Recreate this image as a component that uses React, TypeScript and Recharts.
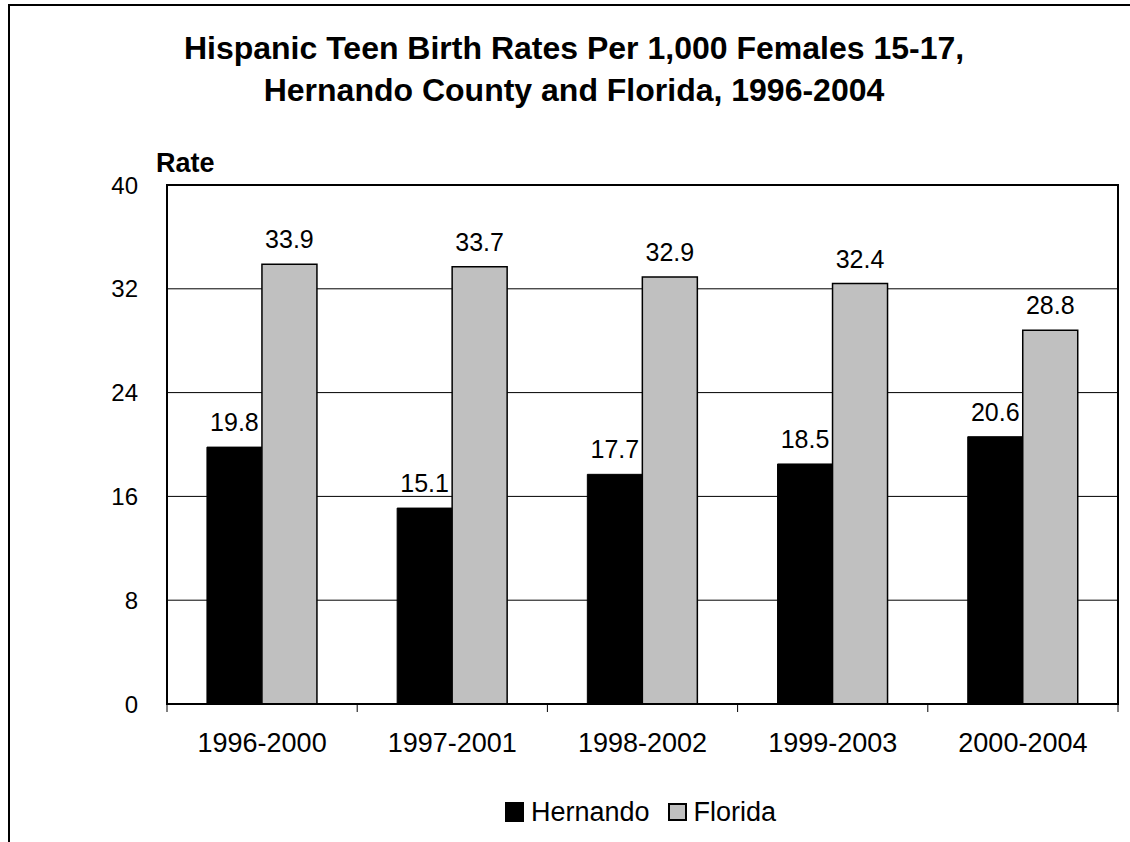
import React from 'react';
import { BarChart, Bar, XAxis, YAxis, CartesianGrid, LabelList } from 'recharts';

const periods = ['1996-2000', '1997-2001', '1998-2002', '1999-2003', '2000-2004'];
const hernando = [19.8, 15.1, 17.7, 18.5, 20.6];
const florida = [33.9, 33.7, 32.9, 32.4, 28.8];
const yTicks = [0, 8, 16, 24, 32, 40];

const chartData = periods.map((p, i) => ({ period: p, Hernando: hernando[i], Florida: florida[i] }));

const font = 'Arial, "Liberation Sans", sans-serif';
const plotWidth = 951;
const labelGap = 29;

function PeriodTick(props: any) {
  const { x, y, payload, index } = props;
  const band = plotWidth / periods.length;
  const axisY = y - labelGap;
  return (
    <g>
      <line x1={x - band / 2} x2={x - band / 2} y1={axisY} y2={axisY + 8} stroke="#000" strokeWidth={1} />
      {index === periods.length - 1 && (
        <line x1={x + band / 2} x2={x + band / 2} y1={axisY} y2={axisY + 8} stroke="#000" strokeWidth={1} />
      )}
      <text x={x} y={y} dy="0.71em" textAnchor="middle" fill="#000" fontSize={27} fontFamily={font}>
        {payload.value}
      </text>
    </g>
  );
}

export default function App() {
  return (
    <div style={{ position: 'fixed', top: 0, left: 0, width: 1130, height: 842, overflow: 'hidden', background: '#fff', fontFamily: font }}>
      <div style={{ position: 'absolute', left: 8, top: 4, width: 1200, height: 900, border: '2px solid #000', boxSizing: 'border-box' }} />
      <div style={{ position: 'absolute', left: 0, width: 1148, top: 27, textAlign: 'center', fontSize: 32, fontWeight: 'bold', lineHeight: '42px', color: '#000' }}>
        Hispanic Teen Birth Rates Per 1,000 Females 15-17,
        <br />
        Hernando County and Florida, 1996-2004
      </div>
      <div style={{ position: 'absolute', left: 156, top: 149, fontSize: 27, fontWeight: 'bold', lineHeight: '28px' }}>Rate</div>
      <div style={{ position: 'absolute', left: 0, top: 0 }}>
        <BarChart width={1130} height={842} data={chartData} margin={{ top: 185, right: 12, left: 117, bottom: 78 }}
          barCategoryGap="21%" barGap={0}>
          <CartesianGrid vertical={false} stroke="#000" strokeWidth={1} />
          <XAxis dataKey="period" height={60} axisLine={false} tickLine={false}
            tickSize={0} tickMargin={labelGap} interval={0} tick={<PeriodTick />} />
          <YAxis domain={[0, 40]} ticks={yTicks} width={50} tickLine={false} tickSize={0} tickMargin={29}
            axisLine={false} tick={{ fill: '#000', fontSize: 24, fontFamily: font }} />
          <Bar dataKey="Hernando" fill="#000" stroke="#000" strokeWidth={1} isAnimationActive={false}>
            <LabelList dataKey="Hernando" position="top" offset={16} fill="#000" fontSize={25} fontFamily={font} />
          </Bar>
          <Bar dataKey="Florida" fill="#c0c0c0" stroke="#000" strokeWidth={1.5} isAnimationActive={false}>
            <LabelList dataKey="Florida" position="top" offset={16} fill="#000" fontSize={25} fontFamily={font} />
          </Bar>
        </BarChart>
      </div>
      <div style={{ position: 'absolute', left: 166, top: 184, width: plotWidth + 2, height: 521, border: '2px solid #000', boxSizing: 'border-box', pointerEvents: 'none' }} />
      <div style={{ position: 'absolute', left: 505, top: 797, display: 'flex', alignItems: 'center', fontSize: 27, lineHeight: '30px' }}>
        <span style={{ display: 'inline-block', width: 19, height: 20, background: '#000', border: '1px solid #000', boxSizing: 'border-box', marginRight: 7 }} />
        <span style={{ marginRight: 18 }}>Hernando</span>
        <span style={{ display: 'inline-block', width: 19, height: 18, background: '#c0c0c0', border: '2px solid #000', boxSizing: 'border-box', marginRight: 7 }} />
        <span>Florida</span>
      </div>
    </div>
  );
}
